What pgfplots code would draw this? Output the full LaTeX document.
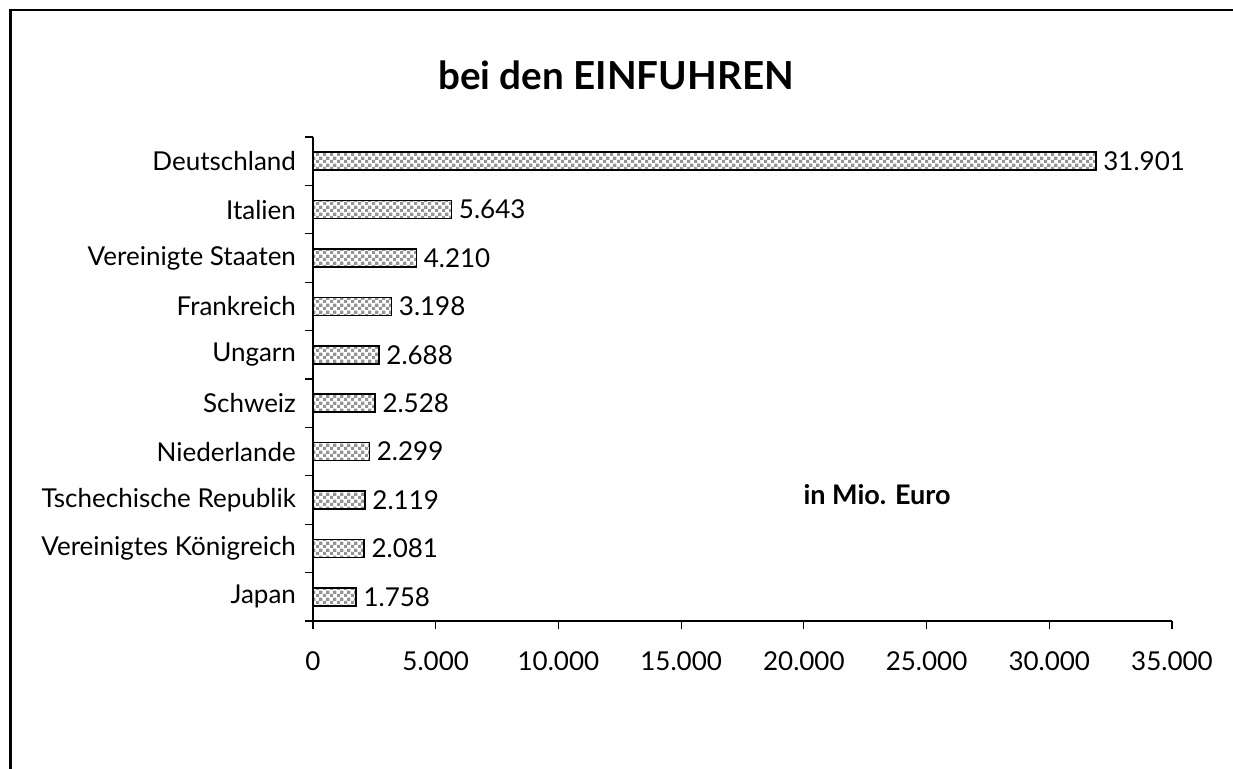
\documentclass[border=0pt]{standalone}
\usepackage{pgfplots}
\pgfplotsset{compat=1.18}
\usepackage{fontspec}
\setmainfont{Lato}
\usetikzlibrary{patterns}
\pgfdeclarepatternformonly{checker}{\pgfpointorigin}{\pgfpoint{3.6pt}{3.6pt}}{\pgfpoint{3.6pt}{3.6pt}}{%
  \pgfpathrectangle{\pgfpointorigin}{\pgfpoint{1.8pt}{1.8pt}}%
  \pgfpathrectangle{\pgfpoint{1.8pt}{1.8pt}}{\pgfpoint{1.8pt}{1.8pt}}%
  \pgfusepath{fill}}
\begin{document}
\begin{tikzpicture}
\path[use as bounding box] (0,0) rectangle (616.5pt,384.5pt);
\draw[line width=1.3pt] (5.2pt,0) -- (5.2pt,379.5pt) -- (616.5pt,379.5pt);
\node[font=\fontsize{19.3}{23}\selectfont\bfseries] at (308pt,347pt) {bei den EINFUHREN};
\node[font=\fontsize{13.5}{16}\selectfont\bfseries] at (438.5pt,137pt) {in Mio. Euro};
\begin{axis}[
  at={(156.5pt,74pt)}, anchor=south west,
  scale only axis, width=429.5pt, height=242pt,
  xbar, bar width=9pt,
  xmin=0, xmax=35000,
  ymin=-0.5, ymax=9.5, y dir=reverse,
  axis x line*=bottom, axis y line*=left,
  axis line style={line width=0.6pt},
  xtick={0,5000,...,35000},
  ytick={-0.5,0.5,...,9.5},
  yticklabels={},
  extra y ticks={0,...,9},
  extra y tick labels={Deutschland,Italien,Vereinigte Staaten,Frankreich,Ungarn,Schweiz,Niederlande,Tschechische Republik,Vereinigtes Königreich,Japan},
  extra y tick style={major tick length=0pt, tick style={draw=none}},
  tick align=outside,
  major tick length=4pt,
  tick style={draw=black, line width=0.6pt},
  ticklabel style={font=\fontsize{13}{15}\selectfont},
  xticklabel style={yshift=-8pt},
  yticklabel style={xshift=-5pt},
  scaled x ticks=false,
  /pgf/number format/.cd, 1000 sep={.}, assume math mode=true,
  /pgfplots/.cd,
  nodes near coords,
  nodes near coords style={font=\fontsize{13}{15}\selectfont, /pgf/number format/.cd, fixed, 1000 sep={.}, assume math mode=true, precision=0},
  clip=false,
]
\addplot[draw=black, line width=0.8pt, pattern=checker, pattern color=black!42] coordinates {
(31901,0) (5643,1) (4210,2) (3198,3) (2688,4) (2528,5) (2299,6) (2119,7) (2081,8) (1758,9)};
\end{axis}
\end{tikzpicture}
\end{document}
